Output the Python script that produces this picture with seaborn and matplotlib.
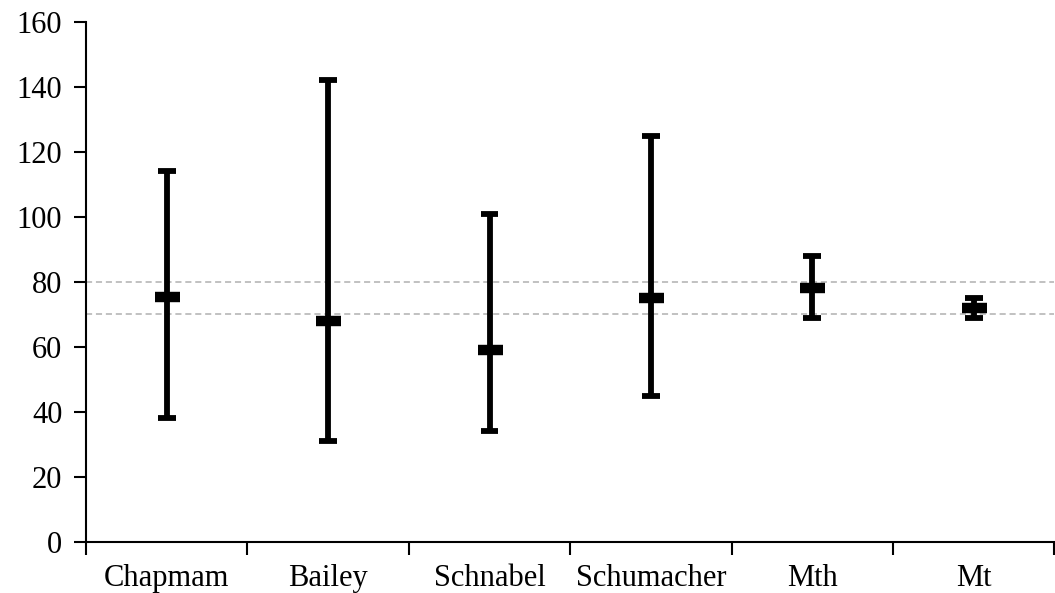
import numpy as np
import pandas as pd
import matplotlib
matplotlib.use("Agg")
import matplotlib.pyplot as plt
import seaborn as sns

# ─── Data ────────────────────────────────────────────────────────────────────
METHODS = ["Chapmam", "Bailey", "Schnabel", "Schumacher", "Mth", "Mt"]
LOWER   = [38, 31, 34, 45, 69, 69]
ESTIM   = [75.5, 68, 59, 75, 78, 72]
UPPER   = [114, 142, 101, 125, 88, 75]
REF_LINES = [70, 80]

sns.set_theme(style="white")
plt.rcParams["font.family"] = ["Liberation Serif", "DejaVu Serif"]
plt.rcParams["text.color"] = "black"
plt.rcParams["xtick.color"] = "black"
plt.rcParams["ytick.color"] = "black"

# long format: low / estimate / high per method; median = estimate, 100% interval = range
rows = []
for m, lo, est, hi in zip(METHODS, LOWER, ESTIM, UPPER):
    for v in (lo, est, hi):
        rows.append({"method": m, "value": v})
df = pd.DataFrame(rows)

fig = plt.figure(figsize=(10.55, 5.93), dpi=100)
ax = fig.add_axes([0.0815, 0.086, 0.918, 0.877])

for y in REF_LINES:
    ax.axhline(y, color="#b0b0b0", linestyle=(0, (4, 2.5)), linewidth=1.1, zorder=0)

sns.pointplot(data=df, x="method", y="value", order=METHODS,
              estimator="median", errorbar=("pi", 100),
              linestyle="none", color="black", marker="_",
              markersize=18, markeredgewidth=7.5,
              capsize=0.11,
              err_kws={"linewidth": 4.2, "solid_capstyle": "butt"}, ax=ax)

ax.set_ylim(0, 160)
ax.set_xlim(-0.5, len(METHODS) - 0.5)
ax.set_yticks(np.arange(0, 161, 20))
ax.set_xlabel("")
ax.set_ylabel("")

# category labels at centres, tick marks at boundaries
ax.set_xticks(np.arange(len(METHODS)), minor=True)
ax.set_xticklabels(METHODS, minor=True)
ax.set_xticks(np.arange(len(METHODS) + 1) - 0.5)
ax.set_xticklabels([])
ax.tick_params(axis="x", which="minor", length=0, labelsize=22, pad=16)
ax.tick_params(axis="x", which="major", direction="out", length=9, width=1.5,
               color="black", bottom=True)
ax.tick_params(axis="y", direction="out", length=9, width=1.5, color="black",
               left=True, labelsize=22, pad=8)

sns.despine(ax=ax)
for s in ("left", "bottom"):
    ax.spines[s].set_color("black")
    ax.spines[s].set_linewidth(1.5)

fig.savefig("out.png", dpi=100)
plt.close(fig)
